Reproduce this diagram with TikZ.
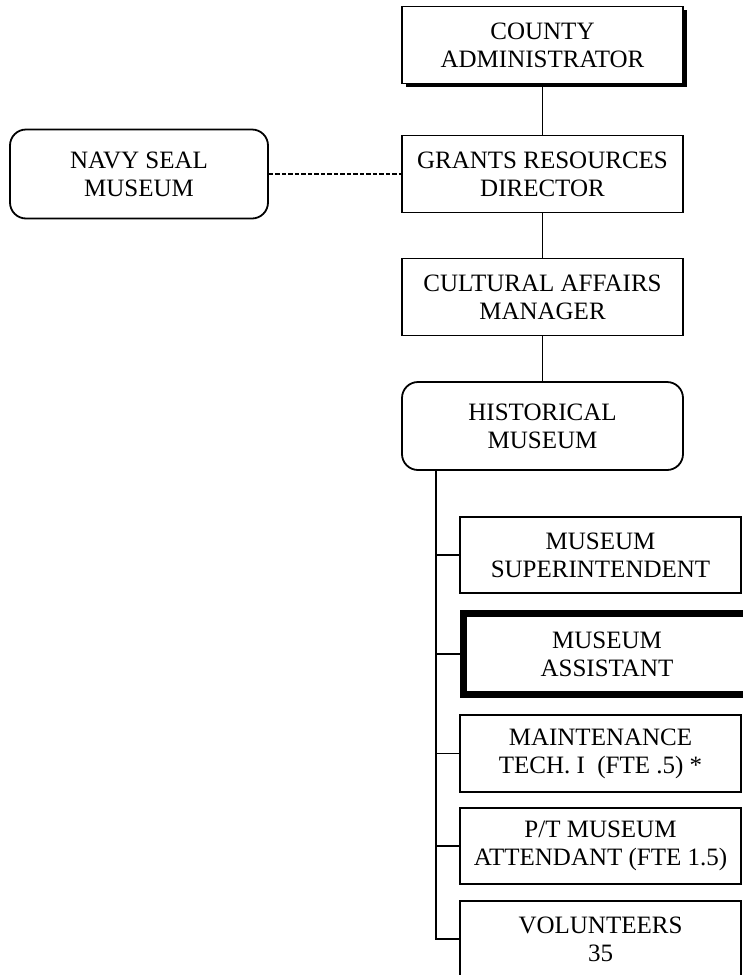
\documentclass[tikz,border=0pt]{standalone}
\usepackage{fontspec}
\setmainfont{Liberation Serif}
\usetikzlibrary{shadows}

\begin{document}
\begin{tikzpicture}[x=1pt, y=-1pt,
    box/.style={draw, line width=1.8pt, fill=white, inner sep=0pt, align=center,
      minimum width=281pt, minimum height=77pt, font=\fontsize{25}{28}\selectfont},
    roundbox/.style={box, rounded corners=16pt},
    link/.style={line width=1.8pt}]
  \useasboundingbox (0,0) rectangle (743,975);
  \clip (0,0) rectangle (743,975);
  % upper chain
  \node[box, drop shadow={shadow xshift=3.5pt, shadow yshift=-3.5pt, fill=black, opacity=1}]
    (cadmin) at (542.5,45) {COUNTY\\ADMINISTRATOR};
  \node[box] (grants) at (542.5,174) {GRANTS RESOURCES\\DIRECTOR};
  \node[box] (cultural) at (542.5,297) {CULTURAL AFFAIRS\\MANAGER};
  \node[roundbox, minimum height=88pt] (historical) at (542.5,426) {HISTORICAL\\MUSEUM};
  \node[roundbox, minimum width=258pt, minimum height=89pt] (navyseal) at (139,174) {NAVY SEAL\\MUSEUM};
  % museum staff
  \node[box, minimum height=76pt] (supt) at (600.5,555) {MUSEUM\\SUPERINTENDENT};
  \node[box, line width=7pt, minimum width=287pt, minimum height=81pt] (assistant) at (607,654) {MUSEUM\\ASSISTANT};
  \node[box] (maint) at (600.5,753.5) {MAINTENANCE\\TECH. I\ \ (FTE .5) *};
  \node[box, minimum height=76pt] (attendant) at (600.5,846) {P/T MUSEUM\\ATTENDANT (FTE 1.5)};
  \node[box, minimum height=76pt] (volunteers) at (600.5,939) {VOLUNTEERS\\35};
  \draw[link] (cadmin) -- (grants);
  \draw[link] (grants) -- (cultural);
  \draw[link] (cultural) -- (historical);
  \draw[link, dash pattern=on 4.5pt off 2pt] (navyseal) -- (grants);
  \coordinate (trunk) at (436,470);
  \draw[link] (trunk) |- (volunteers.west);
  \foreach \n in {supt,assistant,maint,attendant}
    \draw[link] (trunk |- \n.west) -- (\n.west);
\end{tikzpicture}
\end{document}
